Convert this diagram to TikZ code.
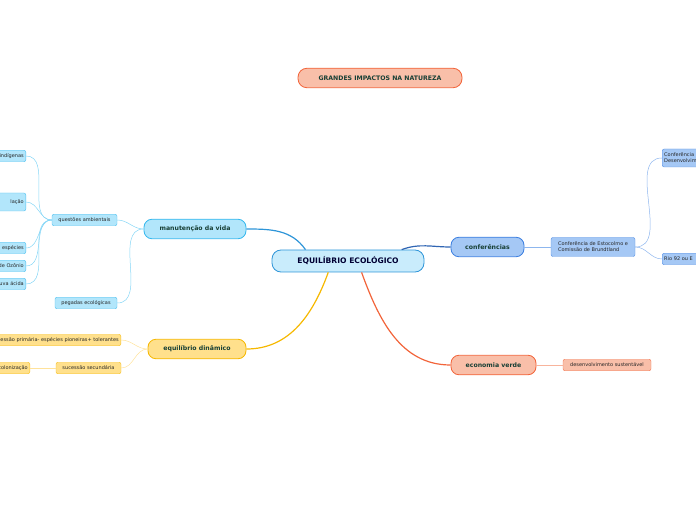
\documentclass[tikz,border=0pt]{standalone}
\usepackage{fontspec}
\setmainfont{DejaVu Sans}
\definecolor{rootfill}{HTML}{C9ECFC}
\definecolor{rootline}{HTML}{2E95D8}
\definecolor{cyanfill}{HTML}{B2E6FB}
\definecolor{cyanline}{HTML}{35B8EE}
\definecolor{cyanwire}{HTML}{86D6F6}
\definecolor{bluefill}{HTML}{A5C8F5}
\definecolor{blueline}{HTML}{3C7FE0}
\definecolor{bluewire}{HTML}{8DB6EE}
\definecolor{yelfill}{HTML}{FFE08C}
\definecolor{yelline}{HTML}{F6B800}
\definecolor{yelwire}{HTML}{FFE29A}
\definecolor{salfill}{HTML}{F9BFA9}
\definecolor{salline}{HTML}{F2643A}
\definecolor{salwire}{HTML}{F8B49C}
\definecolor{darktext}{HTML}{173F35}
\begin{document}
\begin{tikzpicture}[x=1pt,y=1pt,
  every node/.style={align=center,inner sep=2pt},
  rootbox/.style={draw=rootline,fill=rootfill,line width=0.8pt,rounded corners=9pt,minimum width=152pt,minimum height=22pt,font=\fontsize{7.6}{9}\selectfont\bfseries,text=black!80!blue},
  branch/.style={draw=#1line,fill=#1fill,line width=0.8pt,rounded corners=8pt,minimum height=19.5pt,font=\fontsize{6.2}{7.5}\selectfont\bfseries,text=darktext},
  leaf/.style={draw=#1line!85,fill=#1fill,line width=0.45pt,rounded corners=2pt,minimum height=11.5pt,font=\fontsize{5}{6}\selectfont,text=black!85},
  wire/.style={draw=#1wire,line width=0.5pt}]
\useasboundingbox (0,0) rectangle (696,520);
\clip (0,0) rectangle (696,520);

% centre and title
\node[rootbox] (root) at (348,259) {EQUILÍBRIO ECOLÓGICO};
\node[branch=sal,minimum width=164pt,rounded corners=9pt] (impact) at (380,442) {GRANDES IMPACTOS NA NATUREZA};

% main branches
\node[branch=cyan,minimum width=102pt] (vida) at (195,291) {manutenção da vida};
\node[branch=blue,minimum width=73pt] (conf) at (487.5,273) {conferências};
\node[branch=yel,minimum width=98pt] (dina) at (197,171) {equilíbrio dinâmico};
\node[branch=sal,minimum width=85pt] (eco) at (493.5,155) {economia verde};

\draw[rootline,line width=1.2pt] (vida.east) to[out=0,in=125] (root.165);
\draw[blueline!80!black,line width=1.2pt] (root.12) to[out=20,in=180] (conf.west);
\draw[yelline,line width=1.2pt] (root.-150) to[out=-110,in=0] (dina.east);
\draw[salline,line width=1.2pt] (root.-40) to[out=-70,in=180] (eco.west);

% manutencao da vida
\node[leaf=cyan,minimum width=65pt] (quest) at (84.5,300) {questões ambientais};
\node[leaf=cyan,minimum width=62pt] (peg) at (86,217) {pegadas ecológicas};
\node[leaf=cyan,anchor=east,text width=50pt,align=right] (ind) at (26,364) {indígenas};
\node[leaf=cyan,anchor=east,text width=50pt,align=right,minimum height=18pt] (pop) at (26,318) {lação};
\node[leaf=cyan,anchor=east,text width=50pt,align=right] (esp) at (26,272) {espécies};
\node[leaf=cyan,anchor=east,text width=50pt,align=right] (ozo) at (26,254) {de Ozônio};
\node[leaf=cyan,anchor=east,text width=50pt,align=right] (chu) at (26,236) {chuva ácida};
\draw[wire=cyan] (vida.west) to[out=180,in=0] (quest.east);
\draw[wire=cyan] (vida.west) to[out=180,in=0] (peg.east);
\foreach \n in {ind,pop,esp,ozo,chu}
  \draw[wire=cyan] (quest.west) to[out=180,in=0] (\n.east);

% equilibrio dinamico
\node[leaf=yel,anchor=east,text width=150pt,align=right] (prim) at (121,180) {sucessão primária- espécies pioneiras+ tolerantes};
\node[leaf=yel,minimum width=65pt] (sec) at (88.5,152) {sucessão secundária};
\node[leaf=yel,anchor=east,text width=50pt,align=right] (colo) at (30,152) {colonização};
\draw[wire=yel] (dina.west) to[out=180,in=0] (prim.east);
\draw[wire=yel] (dina.west) to[out=180,in=0] (sec.east);
\draw[wire=yel] (sec.west) -- (colo.east);

% conferencias
\node[leaf=blue,minimum width=84pt,minimum height=19pt,align=left] (esto) at (593,273) {Conferência de Estocolmo e\\Comissão de Brundtland};
\node[leaf=blue,anchor=west,text width=60pt,align=left,minimum height=18pt] (desen) at (662,362) {Conferência\\Desenvolvim};
\node[leaf=blue,anchor=west,text width=60pt,align=left] (rio) at (662,261) {Rio 92 ou E};
\draw[wire=blue] (conf.east) -- (esto.west);
\draw[wire=blue] (esto.east) to[out=0,in=180] (desen.west);
\draw[wire=blue] (esto.east) to[out=0,in=180] (rio.west);

% economia verde
\node[leaf=sal,minimum width=88pt] (sust) at (607,155) {desenvolvimento sustentável};
\draw[wire=sal] (eco.east) -- (sust.west);
\end{tikzpicture}
\end{document}
